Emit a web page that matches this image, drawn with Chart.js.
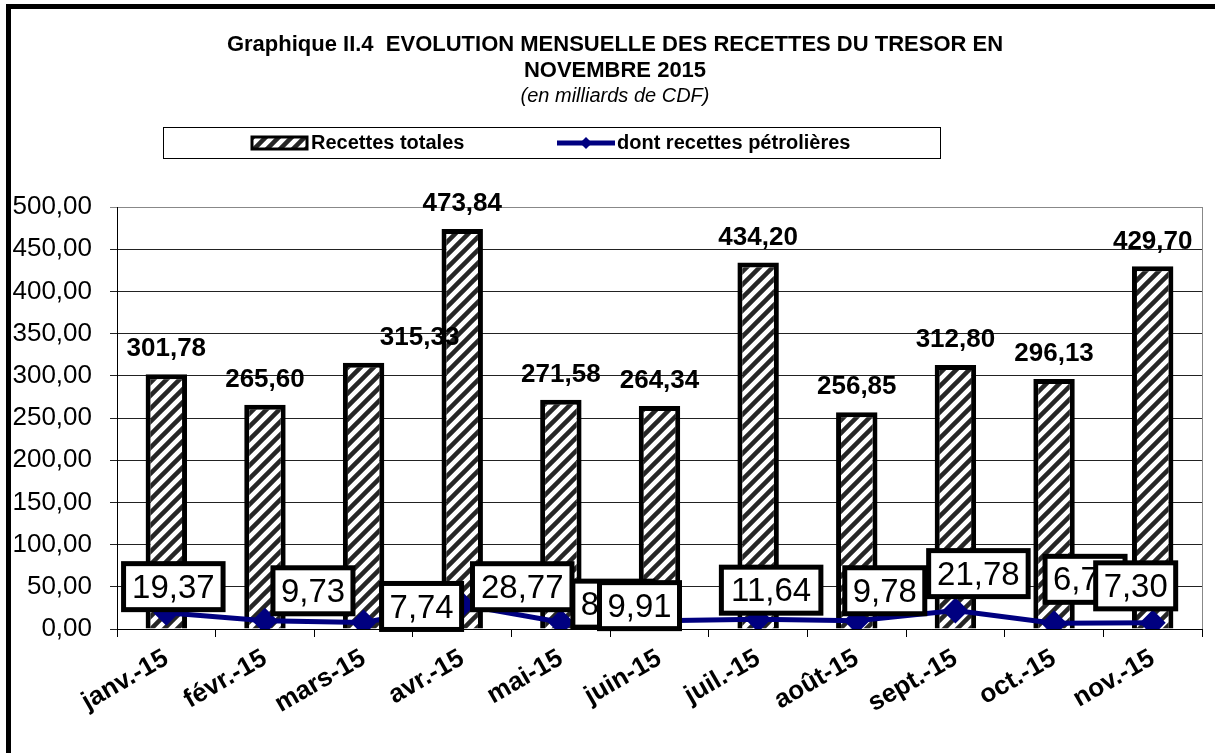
<!DOCTYPE html>
<html>
<head>
<meta charset="utf-8">
<script src="https://cdn.jsdelivr.net/npm/chart.js@4.4.1/dist/chart.umd.min.js"></script>
<style>
  body { margin: 0; background: #fff; }
  canvas { display: block; }
</style>
</head>
<body>
<canvas id="chart" width="1215" height="753"></canvas>
<script>
const months = ['janv.-15', 'févr.-15', 'mars-15', 'avr.-15', 'mai-15', 'juin-15', 'juil.-15', 'août-15', 'sept.-15', 'oct.-15', 'nov.-15'];
const recettesTotales = [301.78, 265.60, 315.33, 473.84, 271.58, 264.34, 434.20, 256.85, 312.80, 296.13, 429.70];
const recettesPetrolieres = [19.37, 9.73, 7.74, 28.77, 8.12, 9.91, 11.64, 9.78, 21.78, 6.72, 7.30];
const yTicks = [0, 50, 100, 150, 200, 250, 300, 350, 400, 450, 500];

// label placement (pixels, relative to the mark)
const barLabelDx = [0, 0, 56, 0, 0, 0, 0, 0, 0, 0, 0];
const oilLabelDx = [7, 48, 58, 60, 52, -20, 13, 28, 23, 31, -17];
const oilLabelDy = [-26, -30, -16, -18, -18, -15, -29, -30, -37, -44, -37];

const FONT = '"Liberation Sans", Arial, sans-serif';
const fmt = v => v.toFixed(2).replace('.', ',');

// hatch pattern for the bars
function makeHatch(size) {
  const c = document.createElement('canvas');
  c.width = size; c.height = size;
  const g = c.getContext('2d');
  g.fillStyle = '#fff';
  g.fillRect(0, 0, size, size);
  g.strokeStyle = '#262626';
  g.lineWidth = 4.5;
  g.beginPath();
  g.moveTo(0, size); g.lineTo(size, 0);
  g.moveTo(-size / 2, size / 2); g.lineTo(size / 2, -size / 2);
  g.moveTo(size / 2, size * 1.5); g.lineTo(size * 1.5, size / 2);
  g.stroke();
  return g.createPattern(c, 'repeat');
}
const hatch = makeHatch(13);

const decor = {
  id: 'decor',
  beforeDraw(chart) {
    const ctx = chart.ctx;
    ctx.save();
    ctx.fillStyle = '#fff';
    ctx.fillRect(0, 0, chart.width, chart.height);
    ctx.restore();
  },
  beforeDatasetsDraw(chart) {
    const ctx = chart.ctx, a = chart.chartArea;
    ctx.save();
    ctx.strokeStyle = '#888';
    ctx.lineWidth = 1;
    ctx.beginPath();
    ctx.moveTo(Math.round(a.right) + 0.5, a.top);
    ctx.lineTo(Math.round(a.right) + 0.5, a.bottom);
    ctx.stroke();
    ctx.restore();
  },
  afterDraw(chart) {
    const ctx = chart.ctx;
    ctx.save();

    // outer frame
    ctx.strokeStyle = '#000';
    ctx.lineWidth = 5;
    ctx.strokeRect(8.5, 6.5, 1400, 900);

    // title
    ctx.fillStyle = '#000';
    ctx.textAlign = 'center';
    ctx.textBaseline = 'middle';
    ctx.font = 'bold 22px ' + FONT;
    ctx.fillText('Graphique II.4  EVOLUTION MENSUELLE DES RECETTES DU TRESOR EN', 615, 45);
    ctx.fillText('NOVEMBRE 2015', 615, 71);
    ctx.font = 'italic 20px ' + FONT;
    ctx.fillText('(en milliards de CDF)', 615, 96);

    // legend
    ctx.lineWidth = 1;
    ctx.strokeStyle = '#000';
    ctx.strokeRect(163.5, 127.5, 777, 31);
    ctx.fillStyle = hatch;
    ctx.fillRect(252, 137, 55, 12);
    ctx.lineWidth = 3;
    ctx.strokeRect(252, 137, 55, 12);
    ctx.fillStyle = '#000';
    ctx.textAlign = 'left';
    ctx.font = 'bold 20px ' + FONT;
    ctx.fillText('Recettes totales', 311, 143);
    ctx.strokeStyle = '#000080';
    ctx.lineWidth = 5;
    ctx.beginPath();
    ctx.moveTo(557, 143); ctx.lineTo(615, 143);
    ctx.stroke();
    ctx.fillStyle = '#000080';
    ctx.beginPath();
    ctx.moveTo(586, 137); ctx.lineTo(592, 143); ctx.lineTo(586, 149); ctx.lineTo(580, 143);
    ctx.fill();
    ctx.fillStyle = '#000';
    ctx.fillText('dont recettes pétrolières', 617, 143);

    // bar value labels
    const bars = chart.getDatasetMeta(1).data;
    ctx.textAlign = 'center';
    ctx.font = 'bold 26px ' + FONT;
    bars.forEach((b, i) => {
      ctx.fillText(fmt(recettesTotales[i]), b.x + barLabelDx[i], b.y - 25);
    });

    // oil labels in boxes
    const pts = chart.getDatasetMeta(0).data;
    ctx.font = '33px ' + FONT;
    pts.forEach((p, i) => {
      const txt = fmt(recettesPetrolieres[i]);
      const w = 19.5 * txt.length + 2, h = 46;
      const cx = p.x + oilLabelDx[i], cy = p.y + oilLabelDy[i];
      ctx.fillStyle = '#fff';
      ctx.fillRect(cx - w / 2, cy - h / 2, w, h);
      ctx.strokeStyle = '#000';
      ctx.lineWidth = 5;
      ctx.strokeRect(cx - w / 2, cy - h / 2, w, h);
      ctx.fillStyle = '#000';
      ctx.fillText(txt, cx, cy + 2, w - 16);
    });

    ctx.restore();
  }
};

new Chart(document.getElementById('chart'), {
  type: 'bar',
  data: {
    labels: months,
    datasets: [
      {
        type: 'line',
        label: 'dont recettes pétrolières',
        data: recettesPetrolieres,
        borderColor: '#000080',
        backgroundColor: '#000080',
        borderWidth: 5,
        tension: 0,
        pointStyle: 'rectRot',
        pointRadius: 13,
        pointBorderWidth: 0,
        pointBackgroundColor: '#000080',
        order: 0
      },
      {
        type: 'bar',
        label: 'Recettes totales',
        data: recettesTotales,
        backgroundColor: hatch,
        borderColor: '#000',
        borderWidth: 5,
        barPercentage: 0.42,
        categoryPercentage: 1,
        order: 1
      }
    ]
  },
  options: {
    responsive: false,
    animation: false,
    layout: { padding: { top: 207, right: 7, bottom: 0, left: 0 } },
    plugins: {
      legend: { display: false },
      title: { display: false },
      tooltip: { enabled: false }
    },
    scales: {
      x: {
        offset: true,
        grid: { display: true, drawOnChartArea: false, color: '#000', tickLength: 8 },
        border: { display: true, color: '#000', width: 1 },
        ticks: {
          color: '#000',
          font: { family: FONT, size: 26, weight: 'bold' },
          minRotation: 30,
          maxRotation: 30,
          autoSkip: false,
          padding: 6
        },
        afterFit: s => { s.height = 124; }
      },
      y: {
        min: 0,
        max: 500,
        afterBuildTicks: s => { s.ticks = yTicks.map(v => ({ value: v })); },
        grid: {
          color: c => (c.tick && c.tick.value === 500 ? '#888' : '#222'),
          lineWidth: 1,
          tickLength: 7
        },
        border: { display: true, color: '#000', width: 1 },
        ticks: {
          color: '#000',
          font: { family: FONT, size: 26 },
          padding: 18,
          callback: v => fmt(v)
        },
        afterFit: s => { s.width = 117; }
      }
    }
  },
  plugins: [decor]
});
</script>
</body>
</html>
